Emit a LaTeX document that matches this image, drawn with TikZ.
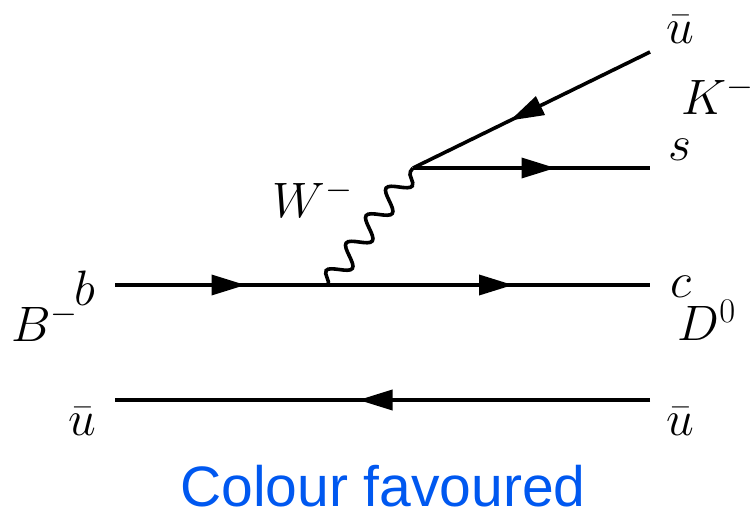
\documentclass[tikz,border=0pt]{standalone}
\usepackage{fontspec}
\newfontfamily\capfont{Liberation Sans}
\usetikzlibrary{arrows.meta,decorations.markings,decorations.pathmorphing}
\definecolor{capblue}{RGB}{0,88,240}
\tikzset{
  fermion/.style={line width=1.8pt, postaction={decorate},
    decoration={markings, mark=at position 0.5 with {\arrow[xshift=12pt]{Triangle[length=17pt,width=10pt]}}}},
  boson/.style={line width=1.8pt, decorate,
    decoration={snake, segment length=17pt, amplitude=5pt}},
  lbl/.style={font=\fontsize{25.5}{30}\selectfont, inner sep=0pt},
  captiontext/.style={font=\capfont\fontsize{28.5}{34}\selectfont, text=capblue, inner sep=0pt, anchor=base}
}
\begin{document}
\begin{tikzpicture}[x=0.5pt,y=-0.5pt]
\useasboundingbox (0,0) rectangle (753,512);
\coordinate (bL) at (115,285);
\coordinate (v1) at (328,285);
\coordinate (cR) at (650,285);
\coordinate (v2) at (413,168);
\coordinate (sR) at (650,168);
\coordinate (uT) at (650,52);
\coordinate (uL) at (115,400);
\coordinate (uR) at (650,400);
\draw[fermion] (bL) -- (v1);
\draw[fermion] (v1) -- (cR);
\draw[fermion] (v2) -- (sR);
\draw[fermion] (uT) -- (v2);
\draw[fermion] (uR) -- (uL);
\draw[boson] (v1) -- (v2);
\node[lbl] (tu) at (680,30) {$\bar{u}$};
\node[lbl] (tk) at (718,95) {$K^-$};
\node[lbl] (ts) at (680,150) {$s$};
\node[lbl] (tw) at (313,198) {$W^-$};
\node[lbl] (tb) at (85,288) {$b$};
\node[lbl] (tc) at (681,287) {$c$};
\node[lbl] (tB) at (45,322) {$B^-$};
\node[lbl] (tD) at (707,320) {$D^0$};
\node[lbl] (tul) at (82,422) {$\bar{u}$};
\node[lbl] (tur) at (680,422) {$\bar{u}$};
\node[captiontext] (title) at (383,506) {Colour favoured};
\end{tikzpicture}
\end{document}
